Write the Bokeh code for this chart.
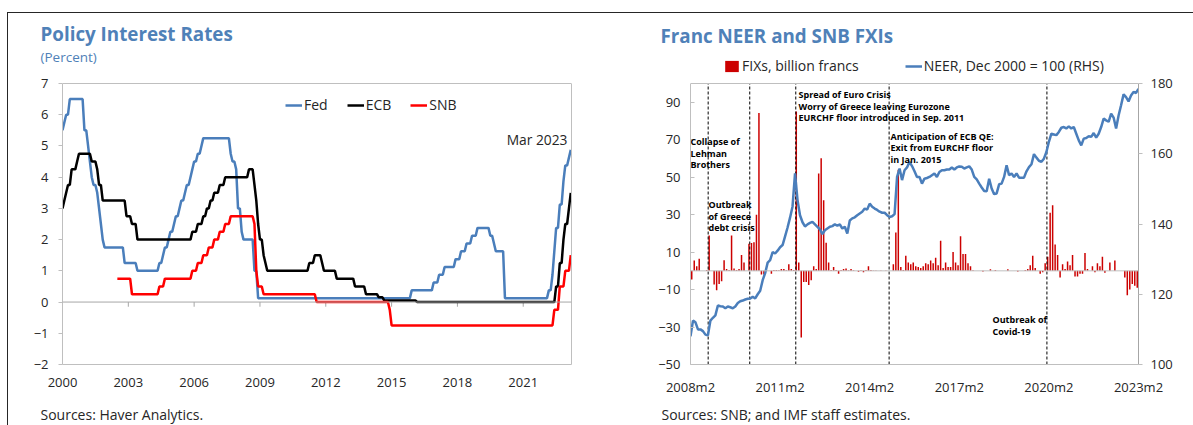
from bokeh.plotting import figure
from bokeh.layouts import row, column
from bokeh.models import (Range1d, LinearAxis, FixedTicker, Label, Legend,
                          LegendItem, Span)
from bokeh.embed import file_html
from bokeh.resources import INLINE

FONT = "Open Sans"
BLUE = "#4A7EBB"
TITLE_BLUE = "#4F81B8"
RED_LINE = "#FF0000"
RED_BAR = "#CC0000"
GRAY = "#BFBFBF"
TXT = "#262626"

# ---------------- Left chart data: policy rate decisions (month, level) ----------------
fed_changes = [
    ("2000-01", 5.5), ("2000-02", 5.75), ("2000-03", 6.0), ("2000-05", 6.5),
    ("2001-01", 5.5), ("2001-03", 5.0), ("2001-04", 4.5), ("2001-05", 4.0),
    ("2001-06", 3.75), ("2001-08", 3.5), ("2001-09", 3.0), ("2001-10", 2.5),
    ("2001-11", 2.0), ("2001-12", 1.75), ("2002-11", 1.25), ("2003-06", 1.0),
    ("2004-06", 1.25), ("2004-08", 1.5), ("2004-09", 1.75), ("2004-11", 2.0),
    ("2004-12", 2.25), ("2005-02", 2.5), ("2005-03", 2.75), ("2005-05", 3.0),
    ("2005-06", 3.25), ("2005-08", 3.5), ("2005-09", 3.75), ("2005-11", 4.0),
    ("2005-12", 4.25), ("2006-01", 4.5), ("2006-03", 4.75), ("2006-05", 5.0),
    ("2006-06", 5.25), ("2007-09", 4.75), ("2007-10", 4.5), ("2007-12", 4.25),
    ("2008-01", 3.0), ("2008-03", 2.25), ("2008-04", 2.0), ("2008-10", 1.0),
    ("2008-12", 0.125), ("2015-12", 0.375), ("2016-12", 0.625), ("2017-03", 0.875),
    ("2017-06", 1.125), ("2017-12", 1.375), ("2018-03", 1.625), ("2018-06", 1.875),
    ("2018-09", 2.125), ("2018-12", 2.375), ("2019-07", 2.125), ("2019-09", 1.875),
    ("2019-10", 1.625), ("2020-03", 0.125), ("2022-03", 0.375), ("2022-05", 0.875),
    ("2022-06", 1.625), ("2022-07", 2.375), ("2022-09", 3.125), ("2022-11", 3.875),
    ("2022-12", 4.375), ("2023-02", 4.625), ("2023-03", 4.875),
]
ecb_changes = [
    ("2000-01", 3.0), ("2000-02", 3.25), ("2000-03", 3.5), ("2000-04", 3.75),
    ("2000-06", 4.25), ("2000-09", 4.5), ("2000-10", 4.75), ("2001-05", 4.5),
    ("2001-08", 4.25), ("2001-09", 3.75), ("2001-11", 3.25), ("2002-12", 2.75),
    ("2003-03", 2.5), ("2003-06", 2.0), ("2005-12", 2.25), ("2006-03", 2.5),
    ("2006-06", 2.75), ("2006-08", 3.0), ("2006-10", 3.25), ("2006-12", 3.5),
    ("2007-03", 3.75), ("2007-06", 4.0), ("2008-07", 4.25), ("2008-10", 3.75),
    ("2008-11", 3.25), ("2008-12", 2.5), ("2009-01", 2.0), ("2009-03", 1.5),
    ("2009-04", 1.25), ("2009-05", 1.0), ("2011-04", 1.25), ("2011-07", 1.5),
    ("2011-11", 1.25), ("2011-12", 1.0), ("2012-07", 0.75), ("2013-05", 0.5),
    ("2013-11", 0.25), ("2014-06", 0.15), ("2014-09", 0.05), ("2016-03", 0.0),
    ("2022-07", 0.5), ("2022-09", 1.25), ("2022-11", 2.0), ("2022-12", 2.5),
    ("2023-02", 3.0), ("2023-03", 3.5),
]
snb_changes = [
    ("2002-07", 0.75), ("2003-03", 0.25), ("2004-06", 0.5), ("2004-09", 0.75),
    ("2005-12", 1.0), ("2006-03", 1.25), ("2006-06", 1.5), ("2006-09", 1.75),
    ("2006-12", 2.0), ("2007-03", 2.25), ("2007-06", 2.5), ("2007-09", 2.75),
    ("2008-10", 2.5), ("2008-11", 1.0), ("2008-12", 0.5), ("2009-03", 0.25),
    ("2011-08", 0.0), ("2014-12", -0.25), ("2015-01", -0.75), ("2022-06", -0.25),
    ("2022-09", 0.5), ("2022-12", 1.0), ("2023-03", 1.5),
]
last_month = "2023-03"
left_year_ticks = [2000, 2003, 2006, 2009, 2012, 2015, 2018, 2021]
left_y_ticks = [-2, -1, 0, 1, 2, 3, 4, 5, 6, 7]
left_y_span = (-2, 7)

# ---------------- Right chart data (monthly, 2008m2 .. 2023m2) ----------------
fxi = [
    -4.6, 5.5, 2.5, 6.5, 0, 0, 0.5, 18.8, 0, -7.3,
    -10.3, -7.0, -5.5, 5.7, 1.0, 0.5, 18.8, 1.2, 0.5, 1.0,
    8.5, 4.5, 0, 14.5, 14.8, 15.2, 30.0, 84.3, -2.0, -2.0,
    0.5, 0, -1.5, 0.5, 0.5, 0.3, 1.0, 1.0, 0.3, 3.5,
    1.0, 0.5, 85.0, 4.5, -35.6, -6.0, -6.0, -7.5, -5.0, 2.5,
    1.0, 52.0, 60.1, 37.7, 15.0, 4.5, 0.5, 2.0, 0.5, -1.5,
    0.5, 1.0, 1.3, 0.3, 1.0, 0.3, 0, -0.5, 0.3, -0.8,
    0.5, 2.5, 0.5, 0.2, 0.2, 0, 0.2, 0, 0.2, 0,
    0, 3.5, 20.5, 54.0, 2.0, 0.5, 8.0, 4.5, 3.5, 4.5,
    2.5, 2.0, 1.5, 2.5, 4.0, 3.5, 5.5, 4.0, 7.0, 3.0,
    16.0, 1.5, 4.5, 2.0, 2.0, 10.0, 4.5, 3.0, 18.5, 9.0,
    9.0, 4.0, 2.5, 0.3, 0, 0, 0, -0.3, 0, 0,
    0.8, 0, 0.5, 0, 0, 0, 0, 0.8, 0, 0,
    0, -0.3, 0, 0, 0.5, 1.0, 3.0, 8.0, 1.5, 0,
    -1.5, -0.8, 4.0, 7.5, 31.0, 35.0, 14.0, 8.5, -3.5, 3.5,
    1.0, 5.0, 3.0, 8.5, -3.0, -3.0, -1.5, -1.5, 9.5, 1.0,
    0, 2.5, -0.8, 4.0, 2.5, 7.5, -1.0, 0, 4.5, 0,
    5.5, 0, 0, 0, -3.5, -13.0, -10.0, -7.0, -8.0, -9.0,
]
neer = [
    108.0, 112.5, 112.0, 110.0, 110.0, 109.5, 108.5, 108.3, 112.5, 113.3,
    114.0, 116.8, 116.6, 116.5, 116.0, 116.5, 116.3, 116.0, 116.5, 117.5,
    118.0, 118.2, 118.5, 118.7, 118.8, 119.3, 118.8, 120.0, 121.0, 124.0,
    126.0, 129.0, 129.7, 132.0, 131.6, 132.4, 133.4, 134.0, 136.5, 139.0,
    141.8, 145.0, 154.4, 146.8, 142.5, 140.5, 139.3, 139.9, 140.3, 140.6,
    139.9, 139.2, 138.5, 137.1, 138.2, 138.7, 139.2, 139.4, 139.9, 139.5,
    139.9, 138.7, 139.2, 137.3, 141.0, 141.6, 141.9, 142.5, 143.0, 143.5,
    144.4, 144.1, 145.8, 144.9, 144.4, 144.0, 143.5, 143.2, 143.2, 142.5,
    142.0, 142.2, 142.8, 153.4, 155.8, 152.5, 155.3, 156.1, 157.7, 156.5,
    155.0, 153.4, 153.4, 151.5, 152.9, 153.1, 153.4, 153.9, 154.4, 153.4,
    154.8, 155.3, 155.3, 155.5, 155.5, 156.1, 155.5, 156.1, 156.4, 156.3,
    155.8, 156.1, 156.4, 155.5, 153.4, 152.7, 151.5, 150.4, 149.4, 149.3,
    152.9, 150.1, 148.5, 148.7, 151.3, 151.5, 153.4, 156.7, 153.9, 154.4,
    153.4, 154.4, 153.2, 153.2, 153.2, 155.0, 156.2, 157.0, 159.9, 158.9,
    158.0, 157.7, 158.6, 160.5, 163.4, 165.7, 165.5, 165.3, 166.2, 167.4,
    167.6, 167.2, 167.8, 167.2, 167.6, 165.7, 163.8, 162.4, 164.3, 164.5,
    165.0, 164.8, 165.9, 164.6, 165.7, 167.6, 170.0, 169.5, 169.1, 171.4,
    170.3, 167.2, 170.9, 173.8, 176.9, 176.1, 174.9, 176.6, 177.6, 177.3,
    178.5,
]
right_x_ticks = [0, 36, 72, 108, 144, 180]
right_x_labels = ["2008m2", "2011m2", "2014m2", "2017m2", "2020m2", "2023m2"]
left_axis_ticks = [-50, -30, -10, 10, 30, 50, 70, 90]
left_axis_span = (-50, 100)
right_axis_ticks = [100, 120, 140, 160, 180]
right_axis_span = (100, 180)
event_months = [7.1, 23.8, 42.3, 79.8, 143.2]
event_notes = [
    (0, 223, ["Collapse of", "Lehman", "Brothers"]),
    (18, 160, ["Outbreak", "of Greece", "debt crisis"]),
    (108, 270, ["Spread of Euro Crisis", "Worry of Greece leaving Eurozone",
                "EURCHF floor introduced in Sep. 2011"]),
    (200, 228.5, ["Anticipation of ECB QE:", "Exit from EURCHF floor", "in Jan. 2015"]),
    (302, 45, ["Outbreak of", "Covid-19"]),
]

# ---------------- layout geometry (pixels) ----------------
PLOT_H = 281          # height of the plotting area
LEFT_W, RIGHT_W = 632, 553
BOTTOM_BORDER = 36
LEFT_TOP_EXTRA = 17   # frame space above the plotting area (left chart)
RIGHT_TOP_EXTRA = 28  # frame space above the plotting area (right chart, holds legend)


def expand(changes, end):
    """Monthly series holding each decided level until the next decision."""
    lookup = dict(changes)
    y, m = map(int, changes[0][0].split("-"))
    ye, me = map(int, end.split("-"))
    xs, ys, val = [], [], None
    while (y, m) <= (ye, me):
        key = f"{y:04d}-{m:02d}"
        if key in lookup:
            val = lookup[key]
        xs.append(y + (m - 1) / 12.0)
        ys.append(val)
        m += 1
        if m > 12:
            m, y = 1, y + 1
    return xs, ys


def lab(p, x, y, text, size="13px", bold=False, color=TXT, align="left"):
    p.add_layout(Label(x=x, y=y, x_units="screen", y_units="screen", text=text,
                       text_font=FONT, text_font_size=size,
                       text_font_style="bold" if bold else "normal",
                       text_color=color, text_align=align,
                       text_baseline="middle"))


def style_axis(ax, tick_in=0, tick_out=4, standoff=8):
    ax.axis_line_color = GRAY
    ax.major_tick_line_color = GRAY
    ax.major_tick_in = tick_in
    ax.major_tick_out = tick_out
    ax.minor_tick_line_color = None
    ax.major_label_standoff = standoff
    ax.major_label_text_font = FONT
    ax.major_label_text_font_size = "13px"
    ax.major_label_text_color = TXT


def strip(w, h):
    s = figure(width=w, height=h, x_range=Range1d(0, 1), y_range=Range1d(0, 1),
               x_axis_type=None, y_axis_type=None, min_border=0,
               toolbar_location=None, output_backend="svg", frame_align=False)
    s.outline_line_color = None
    s.xgrid.visible = False
    s.ygrid.visible = False
    return s


def extend(span, extra_px):
    lo, hi = span
    return hi + extra_px * (hi - lo) / PLOT_H


def make_legend(items, loc, spacing):
    return Legend(items=items, orientation="horizontal", location=loc,
                  glyph_width=17, glyph_height=14, label_height=14, label_standoff=2,
                  spacing=spacing, padding=0, margin=0,
                  label_text_font=FONT, label_text_font_size="14px",
                  label_text_color=TXT, background_fill_alpha=0,
                  border_line_color=None)


# ================= LEFT FIGURE =================
t1 = strip(LEFT_W, 53)
lab(t1, 32, 33, "Policy Interest Rates", size="18.8px", bold=True, color=TITLE_BLUE)
lab(t1, 32, 10, "(Percent)", size="13.5px", color=TITLE_BLUE)

p1 = figure(width=LEFT_W, height=PLOT_H + LEFT_TOP_EXTRA + BOTTOM_BORDER,
            x_range=Range1d(2000, 2023.2),
            y_range=Range1d(left_y_span[0], extend(left_y_span, LEFT_TOP_EXTRA)),
            output_backend="svg", toolbar_location=None, frame_align=False,
            min_border_left=54, min_border_right=69, min_border_top=0,
            min_border_bottom=BOTTOM_BORDER)
p1.xgrid.visible = False
p1.ygrid.visible = False
p1.outline_line_color = None

p1.xaxis.ticker = FixedTicker(ticks=left_year_ticks)
p1.xaxis.major_label_overrides = {t: str(t) for t in left_year_ticks}
style_axis(p1.xaxis[0], 0, 0, 13)
p1.xaxis.major_tick_line_color = None

p1.yaxis.ticker = FixedTicker(ticks=left_y_ticks)
p1.yaxis.bounds = left_y_span
style_axis(p1.yaxis[0], 0, 4, 10)

edge1 = LinearAxis(ticker=FixedTicker(ticks=[]), bounds=left_y_span)
style_axis(edge1, 0, 0, 0)
p1.add_layout(edge1, "right")
p1.add_layout(Span(location=left_y_span[1], dimension="width", line_color=GRAY, line_width=1))
p1.add_layout(Span(location=0, dimension="width", line_color="#A6A6A6", line_width=1))
p1.segment(x0=left_year_ticks, y0=[0] * len(left_year_ticks), x1=left_year_ticks,
           y1=[-0.15] * len(left_year_ticks), line_color="#A6A6A6", line_width=1)

fx, fy = expand(fed_changes, last_month)
ex, ey = expand(ecb_changes, last_month)
sx, sy = expand(snb_changes, last_month)
r_fed = p1.line(fx, fy, line_color=BLUE, line_width=2.5)
r_ecb = p1.line(ex, ey, line_color="black", line_width=2.5)
r_snb = p1.line(sx, sy, line_color=RED_LINE, line_width=2.5)

leg1 = make_legend([LegendItem(label="Fed", renderers=[r_fed]),
                    LegendItem(label="ECB", renderers=[r_ecb]),
                    LegendItem(label="SNB", renderers=[r_snb])], (223, 250), 19)
p1.add_layout(leg1)
lab(p1, 505, 225, "Mar 2023", size="13.8px", align="right")

s1 = strip(LEFT_W, 25)
lab(s1, 32, 11, "Sources: Haver Analytics.", size="14px")

# ================= RIGHT FIGURE =================
t2 = strip(RIGHT_W, 42)
lab(t2, 20, 20, "Franc NEER and SNB FXIs", size="18.8px", bold=True, color=TITLE_BLUE)

p2 = figure(width=RIGHT_W, height=PLOT_H + RIGHT_TOP_EXTRA + BOTTOM_BORDER,
            x_range=Range1d(0, 180),
            y_range=Range1d(left_axis_span[0], extend(left_axis_span, RIGHT_TOP_EXTRA)),
            output_backend="svg", toolbar_location=None, frame_align=False,
            min_border_left=50, min_border_right=55, min_border_top=0,
            min_border_bottom=BOTTOM_BORDER)
p2.xgrid.visible = False
p2.ygrid.visible = False
p2.outline_line_color = None
p2.extra_y_ranges = {"neer": Range1d(right_axis_span[0],
                                     extend(right_axis_span, RIGHT_TOP_EXTRA))}

p2.xaxis.ticker = FixedTicker(ticks=right_x_ticks)
p2.xaxis.major_label_overrides = dict(zip(right_x_ticks, right_x_labels))
style_axis(p2.xaxis[0], 0, 0, 13)
p2.xaxis.major_tick_line_color = None

p2.yaxis.ticker = FixedTicker(ticks=left_axis_ticks)
p2.yaxis.bounds = left_axis_span
style_axis(p2.yaxis[0], 4, 0, 10)

ax_r = LinearAxis(y_range_name="neer", ticker=FixedTicker(ticks=right_axis_ticks),
                  bounds=right_axis_span)
style_axis(ax_r, 0, 4, 8)
ax_r.axis_line_color = "#A6A6A6"
p2.add_layout(ax_r, "right")

p2.add_layout(Span(location=left_axis_span[1], dimension="width", line_color=GRAY, line_width=1))
p2.add_layout(Span(location=0, dimension="width", line_color=GRAY, line_width=1))

bar_x = [i + 0.5 for i in range(len(fxi))]
r_bar = p2.vbar(x=bar_x, top=fxi, bottom=0, width=0.6, fill_color=RED_BAR,
                line_color=None)
p2.segment(x0=event_months, y0=[left_axis_span[0]] * len(event_months),
           x1=event_months, y1=[left_axis_span[1]] * len(event_months),
           line_color="black", line_width=1, line_dash="3 2")
r_neer = p2.line(list(range(len(neer))), neer, y_range_name="neer",
                 line_color=BLUE, line_width=2.5)

leg2 = make_legend([LegendItem(label="FIXs, billion francs", renderers=[r_bar]),
                    LegendItem(label="NEER, Dec 2000 = 100 (RHS)", renderers=[r_neer])],
                   (33, 289), 46)
p2.add_layout(leg2)

for x0, y0, lines in event_notes:
    for k, t in enumerate(lines):
        lab(p2, x0, y0 - 11.7 * k, t, size="9px", bold=True, color="black")

s2 = strip(RIGHT_W, 25)
lab(s2, 21, 11, "Sources: SNB; and IMF staff estimates.", size="14px")

layout = row(column(t1, p1, s1), column(t2, p2, s2),
             styles={"border-top": "1px solid #262626",
                     "border-left": "1px solid #262626",
                     "margin-top": "12px", "margin-left": "7px"})

open("out.html", "w").write(file_html(layout, INLINE))
